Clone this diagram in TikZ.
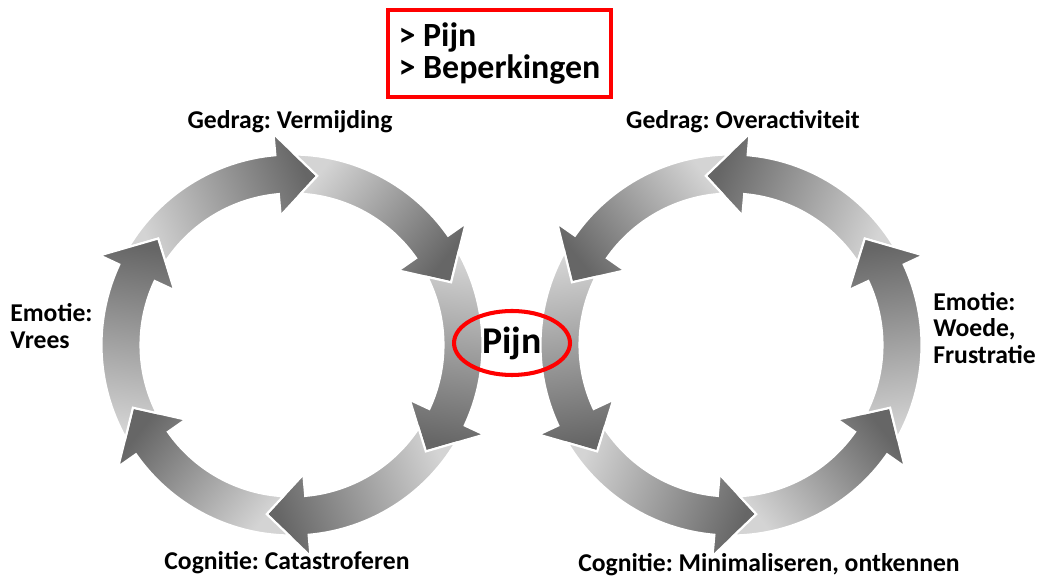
\documentclass[tikz,border=0pt]{standalone}
\usepackage{fontspec}
\setmainfont{Carlito}
\usepackage{tikz}
\usetikzlibrary{positioning}
\usetikzlibrary{shapes.geometric}
\frenchspacing

% one shaded arrow of a ring: #1 centre, #2 tip angle, #3 sense (+1 ccw, -1 cw)
\newcommand{\ringarrow}[3]{%
  \pgfmathsetmacro{\headbase}{#2-#3*13.5}
  \pgfmathsetmacro{\tailnotch}{#2-#3*60}
  \pgfmathsetmacro{\tailout}{#2-#3*67.6}
  \pgfmathsetmacro{\tailin}{#2-#3*65.2}
  \pgfmathsetmacro{\shadeangle}{(#2+\tailnotch)/2+#3*90-90}
  \path[ringpiece, shading angle=\shadeangle, shift={(#1)}]
    (\tailout:190.5) arc[start angle=\tailout, end angle=\headbase, radius=190.5]
    -- (\headbase:212) -- (#2:171) -- (\headbase:130) -- (\headbase:151.5)
    arc[start angle=\headbase, end angle=\tailin, radius=151.5]
    -- (\tailnotch:171) -- cycle;
}

\begin{document}
\begin{tikzpicture}[x=0.02cm, y=0.02cm,
    ringpiece/.style={draw=white, line width=1.2pt, top color=black!60, bottom color=black!17},
    cyclelabel/.style={font=\bfseries\fontsize{14.6}{15}\selectfont, inner sep=0pt, align=left},
    redbox/.style={draw=red, line width=2.3pt, font=\bfseries\fontsize{19.3}{18.5}\selectfont,
        align=left, minimum width=4.46cm, minimum height=1.74cm},
    pijnring/.style={draw=red, line width=2.3pt, ellipse, inner sep=0pt,
        minimum width=2.32cm, minimum height=1.28cm, font=\bfseries\fontsize{21.5}{21.5}\selectfont}]

\useasboundingbox (0,0) rectangle (1038,578);

\coordinate (leftring) at (292,233);
\coordinate (rightring) at (731,233);

% left ring runs clockwise, right ring counter-clockwise
\foreach \k in {0,...,5}
    \ringarrow{leftring}{81.5-60*\k}{-1};
\foreach \k in {0,...,5}
    \ringarrow{rightring}{98.5+60*\k}{1};

\node[pijnring] (pijn) at (512,235) {Pijn};
\node[redbox] (gevolg) at (499.5,524.5) {> Pijn\\> Beperkingen};

\node[cyclelabel] (gedragl) at (290,456) {Gedrag: Vermijding};
\node[cyclelabel, anchor=west] (emotiel) at (10,252) {Emotie:\\Vrees};
\node[cyclelabel] (cognitiel) at (287,15) {Cognitie: Catastroferen};

\node[cyclelabel] (gedragr) at (743,456) {Gedrag: Overactiviteit};
\node[cyclelabel, anchor=west] (emotier) at (933,250) {Emotie:\\Woede,\\Frustratie};
\node[cyclelabel] (cognitier) at (769,13) {Cognitie: Minimaliseren, ontkennen};

\end{tikzpicture}
\end{document}
